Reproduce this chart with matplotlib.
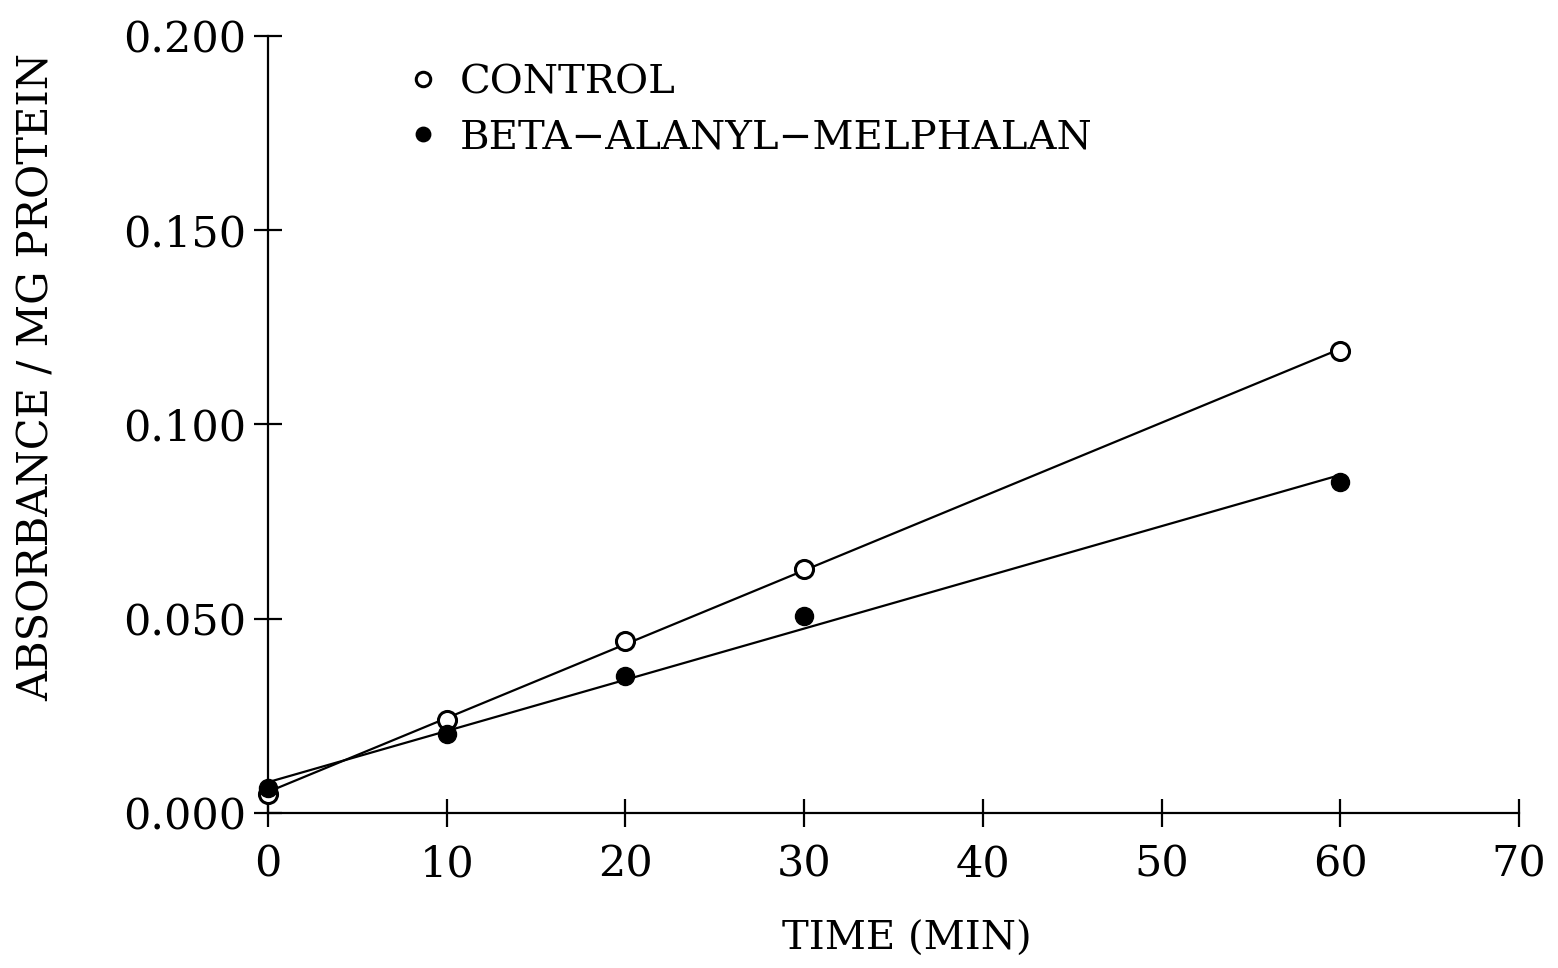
import matplotlib
matplotlib.use("Agg")
import matplotlib.pyplot as plt
import numpy as np

# incubation time (min) and absorbance per mg protein
time_min = [0, 10, 20, 30, 60]
control = [0.005, 0.024, 0.0444, 0.0629, 0.119]
beta_alanyl = [0.0064, 0.0203, 0.0352, 0.0508, 0.0852]

x_ticks = [0, 10, 20, 30, 40, 50, 60, 70]
y_ticks = [0.0, 0.05, 0.10, 0.15, 0.20]

plt.rcParams['font.family'] = ['DejaVu Serif']

fig = plt.figure(figsize=(15.58, 9.68), dpi=100)
ax = fig.add_axes([0.172, 0.160, 0.803, 0.803])

# least-squares lines through each series
xs = np.array([0, 60])
for ys in (control, beta_alanyl):
    k, b = np.polyfit(time_min, ys, 1)
    ax.plot(xs, k * xs + b, color='black', lw=1.6, zorder=2)

h1, = ax.plot(time_min, control, 'o', ms=13, mfc='white', mec='black',
              mew=2.2, ls='none', zorder=3, label='CONTROL', clip_on=False)
h2, = ax.plot(time_min, beta_alanyl, 'o', ms=13, mfc='black', mec='black',
              ls='none', zorder=3, label='BETA\u2212ALANYL\u2212MELPHALAN',
              clip_on=False)

ax.set_xlim(0, 70)
ax.set_ylim(0, 0.2)
ax.set_xticks(x_ticks)
ax.set_yticks(y_ticks)
ax.set_yticklabels(['%.3f' % v for v in y_ticks])

for s in ('top', 'right'):
    ax.spines[s].set_visible(False)
for s in ('left', 'bottom'):
    ax.spines[s].set_linewidth(1.6)

ax.tick_params(direction='inout', length=20, width=1.6, labelsize=31)
ax.tick_params(axis='x', pad=12)
ax.tick_params(axis='y', pad=6)

ax.set_xlabel('TIME (MIN)', fontsize=29)
ax.set_ylabel('ABSORBANCE / MG PROTEIN', fontsize=30)
ax.xaxis.set_label_coords(0.511, -0.138)
ax.yaxis.set_label_coords(-0.168, 0.561)

leg = ax.legend(handles=[h1, h2], loc='upper left', bbox_to_anchor=(0.085, 1.01),
                frameon=False, fontsize=29, handlelength=0.6, handletextpad=0.62,
                labelspacing=0.45, markerscale=0.8)

fig.savefig('out.png', dpi=100, facecolor='white')
